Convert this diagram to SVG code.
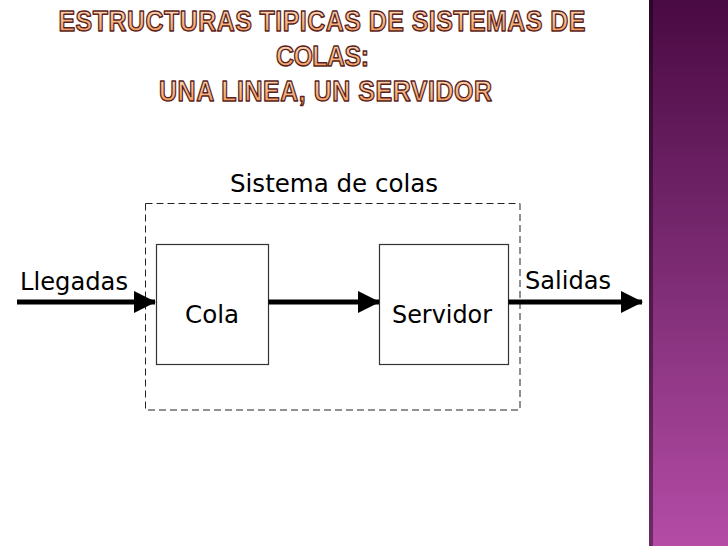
<svg xmlns="http://www.w3.org/2000/svg" width="728" height="546" viewBox="0 0 728 546">
  <defs>
    <linearGradient id="bar" x1="0" y1="0" x2="0" y2="1">
      <stop offset="0" stop-color="#4a0a43"/>
      <stop offset="0.5" stop-color="#7d2c74"/>
      <stop offset="1" stop-color="#b44ca6"/>
    </linearGradient>
    <linearGradient id="barEdge" x1="0" y1="0" x2="0" y2="1">
      <stop offset="0" stop-color="#2c0628"/>
      <stop offset="1" stop-color="#6e2a66"/>
    </linearGradient>
    <linearGradient id="titleFill" x1="0" y1="0" x2="0" y2="1">
      <stop offset="0" stop-color="#fde2c6"/>
      <stop offset="0.5" stop-color="#f7bb86"/>
      <stop offset="1" stop-color="#ec8f48"/>
    </linearGradient>
    <marker id="head" viewBox="0 0 22 22" refX="21" refY="11" markerWidth="22" markerHeight="22" markerUnits="userSpaceOnUse" orient="auto">
      <path d="M0,0 L22,11 L0,22 Z" fill="#000"/>
    </marker>
  </defs>
  <style>
    .title { font-family: "Liberation Sans", "DejaVu Sans", sans-serif; font-weight: bold; font-size: 25px; text-anchor: middle; fill: url(#titleFill); stroke: #5b1e22; stroke-width: 1.2px; stroke-linejoin: round; }
    .lbl { font-family: "DejaVu Sans", "Liberation Sans", sans-serif; font-size: 24px; fill: #000; }
    .box { fill: #fff; stroke: #333; stroke-width: 1.2; }
    .conn { stroke: #000; stroke-width: 5; fill: none; marker-end: url(#head); }
  </style>
  <rect width="728" height="546" fill="#fff"/>
  <g id="sidebar">
    <rect x="649" y="0" width="79" height="546" fill="url(#bar)"/>
    <rect x="649" y="0" width="4" height="546" fill="url(#barEdge)"/>
  </g>
  <g id="title">
    <text class="title" transform="translate(322,31) scale(1,1.2)" x="0" y="0" textLength="527" lengthAdjust="spacing">ESTRUCTURAS TIPICAS DE SISTEMAS DE</text>
    <text class="title" transform="translate(322.5,66) scale(1,1.2)" x="0" y="0" textLength="93" lengthAdjust="spacing">COLAS:</text>
    <text class="title" transform="translate(325.5,101) scale(1,1.2)" x="0" y="0" textLength="333" lengthAdjust="spacing">UNA LINEA, UN SERVIDOR</text>
  </g>
  <g id="sistema">
    <rect x="145.5" y="203.5" width="374.5" height="206.5" fill="none" stroke="#222" stroke-width="1" stroke-dasharray="7,4"/>
    <text class="lbl" x="230" y="192" textLength="208" lengthAdjust="spacingAndGlyphs">Sistema de colas</text>
  </g>
  <g id="cola">
    <rect class="box" x="156.5" y="244.5" width="112" height="120"/>
    <text class="lbl" x="185" y="323" textLength="54" lengthAdjust="spacingAndGlyphs">Cola</text>
  </g>
  <g id="servidor">
    <rect class="box" x="379.5" y="244.5" width="129" height="120"/>
    <text class="lbl" x="392" y="323" textLength="100" lengthAdjust="spacingAndGlyphs">Servidor</text>
  </g>
  <g id="labels">
    <text class="lbl" x="20" y="290" textLength="108" lengthAdjust="spacingAndGlyphs">Llegadas</text>
    <text class="lbl" x="525" y="289" textLength="86" lengthAdjust="spacingAndGlyphs">Salidas</text>
  </g>
  <g id="connectors">
    <line class="conn" x1="17" y1="302" x2="155" y2="302"/>
    <line class="conn" x1="268.5" y1="302" x2="379" y2="302"/>
    <line class="conn" x1="508.5" y1="302" x2="642" y2="302"/>
  </g>
</svg>
